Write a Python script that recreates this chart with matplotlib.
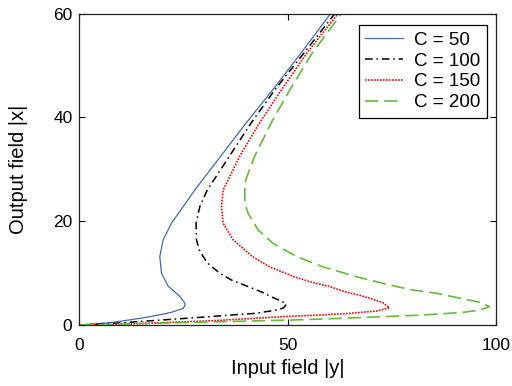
import matplotlib
matplotlib.use("Agg")
import matplotlib.pyplot as plt

plt.rcParams['font.family'] = ['Liberation Sans', 'DejaVu Sans']

# output field |x| (vertical) and input field |y| (horizontal)
c50_out = [0, 0.52, 1.28, 1.6, 2.25, 2.57, 3.2, 3.85, 4.18, 4.6, 5.6, 7.5, 9.96, 13.2, 16.4,
           19.6, 22.8, 26.0, 32.4, 38.9, 45.3, 52.3, 60]
c50_in = [0, 8.1, 14.5, 16.9, 21.0, 22.6, 24.9, 25.4, 25.3, 25.0, 24.0, 21.3, 19.7, 19.3, 20.1,
          22.1, 24.9, 27.7, 33.8, 40.0, 46.4, 53.1, 60.3]

c100_out = [0, 0.3, 0.9, 1.28, 1.6, 1.93, 2.25, 2.9, 3.3, 4.0, 4.6, 5.45, 6.1, 7.4, 8.67, 9.96,
            11.9, 13.2, 14.45, 16.4, 19.6, 22.8, 26.0, 32.4, 38.9, 45.3, 52.3, 60]
c100_in = [0, 8, 18.5, 25.5, 31.0, 36.5, 42.2, 47.5, 49.0, 49.7, 48.5, 46.0, 44.5, 40.5, 36.5,
           33.7, 30.8, 29.7, 28.8, 28.1, 28.0, 28.9, 30.7, 35.9, 41.2, 46.9, 53.8, 61.3]

c150_out = [0, 0.32, 0.83, 1.48, 1.73, 1.93, 2.25, 2.7, 3.34, 4.3, 5.14, 5.8, 6.4, 7.4, 8.35,
            9.3, 11.2, 13.2, 16.4, 19.6, 22.8, 26.0, 32.4, 38.9, 45.3, 52.3, 60]
c150_in = [0, 16.1, 32.1, 46.0, 52.0, 58.0, 65.0, 71.4, 74.4, 72.8, 69.7, 67.0, 63.8, 60.1, 55.3,
           51.5, 45.7, 41.5, 36.9, 34.5, 34.1, 34.5, 38.4, 43.2, 48.5, 54.5, 62.1]

c200_out = [0, 0.45, 0.96, 1.28, 1.6, 1.93, 2.44, 2.9, 3.53, 4.37, 5.14, 6.1, 6.74, 7.7, 9.3,
            11.2, 13.2, 15.7, 18.3, 21.5, 23.4, 26.0, 27.9, 32.4, 38.9, 45.3, 52.3, 60]
c200_in = [0, 24.1, 51.0, 62.5, 72.5, 82.5, 92.1, 96.2, 98.4, 96.2, 91.4, 85.8, 80.0, 74.5, 66.5,
           58.5, 52.1, 46.5, 42.9, 40.5, 39.7, 39.7, 39.9, 42.0, 46.0, 50.5, 55.8, 62.9]

labels = ['C = 50', 'C = 100', 'C = 150', 'C = 200']
x_ticks = [0, 50, 100]
y_ticks = [0, 20, 40, 60]

fig = plt.figure(figsize=(5.12, 3.86), dpi=100)
ax = fig.add_axes([0.155, 0.158, 0.814, 0.807])

ax.plot(c50_in, c50_out, color='#4468b4', lw=0.9, linestyle='-', label=labels[0])
ax.plot(c100_in, c100_out, color='black', lw=1.1, linestyle=(0, (5, 2.5, 1, 2.5)), label=labels[1])
ax.plot(c150_in, c150_out, color='#ff0000', lw=1.2, linestyle=(0, (1, 0.8)), label=labels[2])
ax.plot(c200_in, c200_out, color='#66bb3a', lw=1.2, linestyle=(0, (8, 3.5)), label=labels[3])

ax.set_xlim(0, 100)
ax.set_ylim(0, 60)
ax.set_xticks(x_ticks)
ax.set_yticks(y_ticks)
ax.tick_params(direction='in', top=True, right=True, labelsize=12.5, length=4, width=0.8)
ax.tick_params(axis='x', pad=9)
ax.tick_params(axis='y', pad=5)
for s in ax.spines.values():
    s.set_linewidth(0.9)
    s.set_color('#222222')

ax.set_xlabel('Input field |y|', fontsize=14.5, labelpad=5)
ax.set_ylabel('Output field |x|', fontsize=14.5, labelpad=18)

leg = ax.legend(loc='upper right', fontsize=13.5, frameon=True, fancybox=False,
                edgecolor='black', framealpha=1, handlelength=2.0,
                borderpad=0.35, labelspacing=0.2, handletextpad=0.6,
                borderaxespad=0, bbox_to_anchor=(0.978, 0.963))
leg.get_frame().set_linewidth(0.9)

fig.savefig('out.png', dpi=100)
